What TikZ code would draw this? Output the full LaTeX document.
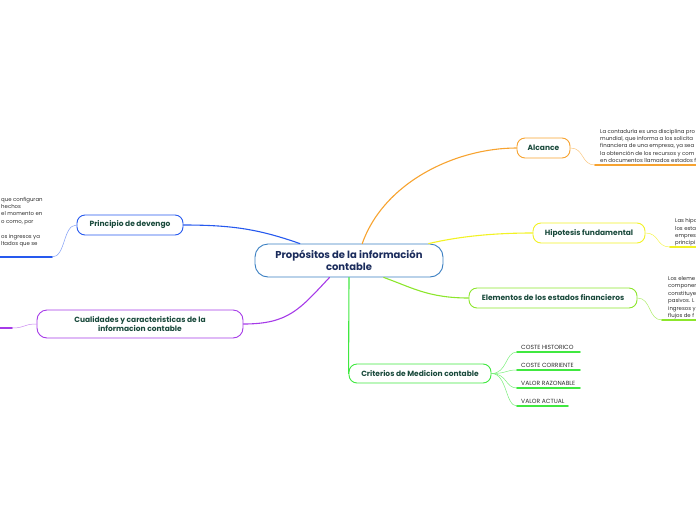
\documentclass[tikz,border=0pt]{standalone}
\usepackage{fontspec}
\setmainfont{Poppins}
\definecolor{cenblue}{HTML}{3A7FC2}
\definecolor{centext}{HTML}{1B2C5C}
\definecolor{titletext}{HTML}{1A4A3C}
\definecolor{leaftext}{HTML}{2E2E2E}
\definecolor{alcorange}{HTML}{F7A330}
\definecolor{hipyellow}{HTML}{F2F224}
\definecolor{elegreen}{HTML}{8CE62C}
\definecolor{crigreen}{HTML}{40E840}
\definecolor{pdvblue}{HTML}{2659EE}
\definecolor{cuapurple}{HTML}{A63BE8}
\begin{document}
\begin{tikzpicture}[x=1pt,y=-1pt,line cap=round,line join=round,
  topic/.style={draw,line width=0.9pt,rounded corners=8pt,fill=white,inner sep=0pt,
    align=center,font=\fontsize{7.5}{9}\selectfont\bfseries,text=titletext},
  leaf/.style={inner sep=0pt,align=left,font=\fontsize{5.4}{7.4}\selectfont,
    text=leaftext,anchor=south west},
  branch/.style={line width=1.1pt},
  twig/.style={line width=0.5pt},
  uline/.style={line width=1.6pt}]
  \useasboundingbox (0,0) rectangle (696,520);
  \clip (0,0) rectangle (696,520);
  % main topic
  \node[topic,draw=cenblue,minimum width=188pt,minimum height=33pt,rounded corners=13pt,
    font=\fontsize{10}{12}\selectfont\bfseries,text=centext] (cen) at (349,260.5)
    {Propósitos de la información\\contable};
  % subtopics
  \node[topic,draw=alcorange,minimum width=53pt,minimum height=20pt] (alc) at (543.5,148) {Alcance};
  \node[topic,draw=hipyellow,minimum width=112pt,minimum height=20pt] (hip) at (589,233) {Hipotesis fundamental};
  \node[topic,draw=elegreen,minimum width=168pt,minimum height=20pt] (ele) at (553,298) {Elementos de los estados financieros};
  \node[topic,draw=crigreen,minimum width=142pt,minimum height=19pt] (cri) at (420,373.5) {Criterios de Medicion contable};
  \node[topic,draw=pdvblue,minimum width=106pt,minimum height=20pt] (pdv) at (130,225) {Principio de devengo};
  \node[topic,draw=cuapurple,minimum width=206pt,minimum height=28pt,rounded corners=10pt] (cua) at (140,324)
    {Cualidades y caracteristicas de la\\informacion contable};
  % connectors from the main topic
  \draw[branch,alcorange] (cen.52) .. controls +(22,-62) and +(-60,0) .. (alc.west);
  \draw[branch,hipyellow] (cen.12) .. controls +(30,-7) and +(-40,0) .. (hip.west);
  \draw[branch,elegreen] (cen.-26) .. controls +(28,10) and +(-40,0) .. (ele.west);
  \draw[branch,crigreen] (cen.south) -- (cri.west);
  \draw[branch,pdvblue] (cen.161) .. controls +(-40,-14) and +(50,0) .. (pdv.east);
  \draw[branch,cuapurple] (cen.-139) .. controls +(-30,32) and +(45,0) .. (cua.east);
  % leaf lines
  \coordinate (alcu) at (595,165);
  \coordinate (alcv) at (696,165);
  \coordinate (hipu) at (670,247);
  \coordinate (hipv) at (696,247);
  \coordinate (eleu) at (662,320);
  \coordinate (elev) at (696,320);
  \coordinate (pdvu) at (52,257);
  \coordinate (pdvv) at (0,257);
  \coordinate (cuau) at (12,328);
  \coordinate (cuav) at (0,328);
  \draw[twig,alcorange!60] (alc.east) .. controls +(14,0) and +(-14,0) .. (alcu);
  \draw[uline,alcorange] (alcu) -- (alcv);
  \draw[twig,hipyellow!80] (hip.east) .. controls +(14,0) and +(-14,0) .. (hipu);
  \draw[uline,hipyellow] (hipu) -- (hipv);
  \draw[twig,elegreen!70] (ele.east) .. controls +(14,0) and +(-14,0) .. (eleu);
  \draw[uline,elegreen] (eleu) -- (elev);
  \draw[twig,pdvblue!60] (pdv.west) .. controls +(-14,0) and +(14,0) .. (pdvu);
  \draw[uline,pdvblue] (pdvu) -- (pdvv);
  \draw[twig,cuapurple!60] (cua.west) .. controls +(-14,0) and +(14,0) .. (cuau);
  \draw[uline,cuapurple] (cuau) -- (cuav);
  % leaf texts
  \node[leaf] (alct) at (600,163) {La contaduría es una disciplina pro\\mundial, que informa a los solicita\\financiera de una empresa, ya sea\\la obtención de los recursos y com\\en documentos llamados estados f};
  \node[leaf] (hipt) at (675,246.5) {Las hipo\\los esta\\empres\\principi};
  \node[leaf] (elet) at (668,319) {Los eleme\\componen\\constituye\\pasivos. L\\ingresos y\\flujos de f};
  \node[leaf] (pdvt) at (1,247) {que configuran\\hechos\\el momento en\\o como, por\\[7.4pt]os ingresos ya\\ltados que se};
  % criterios leaves
  \foreach \name/\yy/\len/\txt in {ch1/352/580/COSTE HISTORICO,ch2/370/580/COSTE CORRIENTE,ch3/388/580/VALOR RAZONABLE,ch4/406/568/VALOR ACTUAL}{
    \coordinate (\name u) at (517,\yy);
    \coordinate (\name v) at (\len,\yy);
    \draw[twig,crigreen!70] (cri.east) .. controls +(16,0) and +(-12,0) .. (\name u);
    \draw[uline,crigreen] (\name u) -- (\name v);
    \node[leaf,font=\fontsize{6}{7}\selectfont] (\name) at (521,\yy-2.5) {\txt};
  }
\end{tikzpicture}
\end{document}
